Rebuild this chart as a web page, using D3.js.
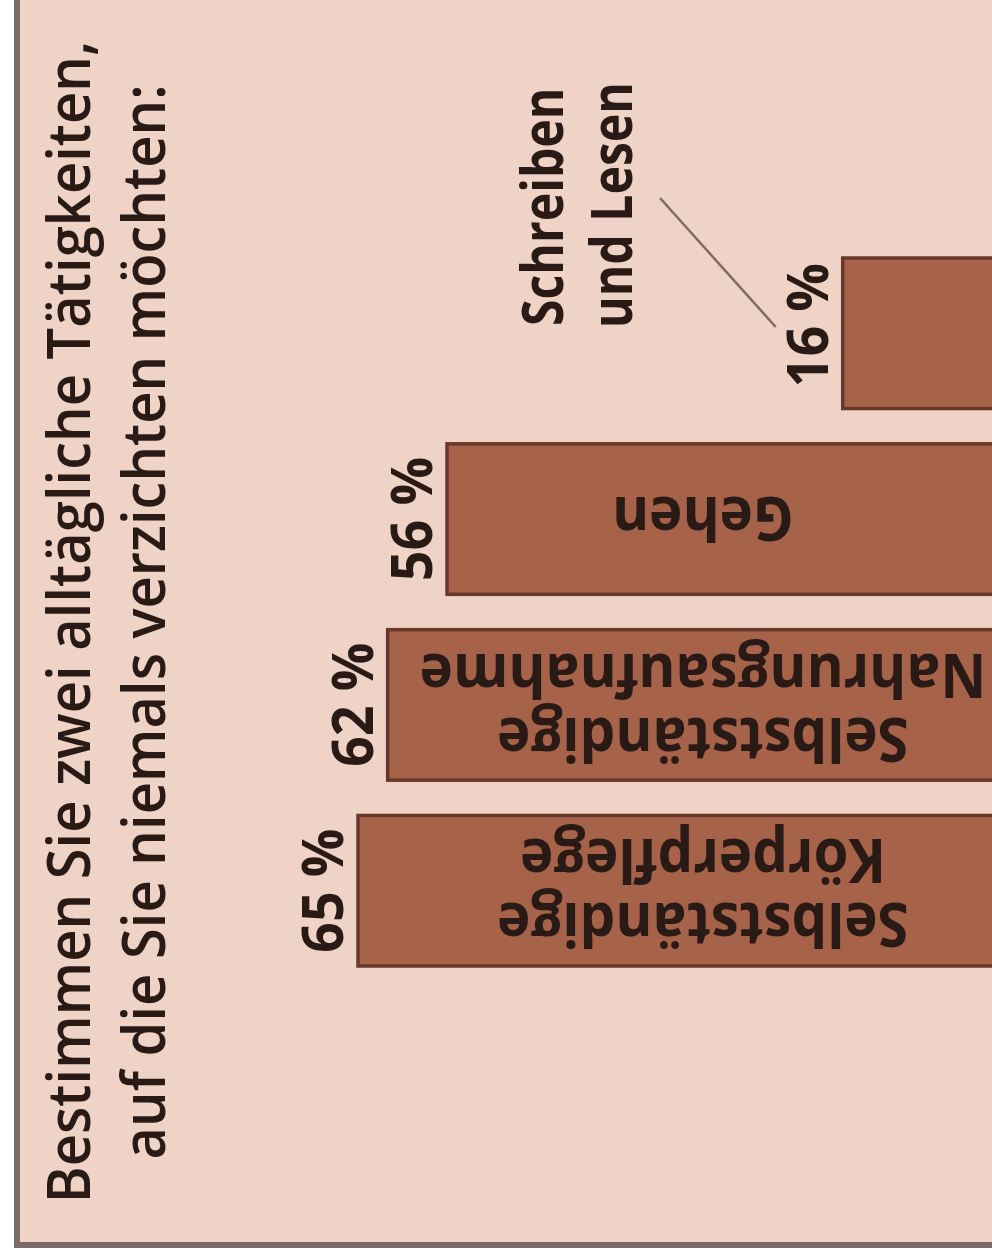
<!DOCTYPE html>
<html>
<head>
<meta charset="utf-8">
<script src="https://cdn.jsdelivr.net/npm/d3@7"></script>
<style>
  html, body { margin: 0; padding: 0; background: #ffffff; }
  svg { display: block; }
  text { font-family: "Open Sans", "Noto Sans", sans-serif; fill: #2a1a16; }
</style>
</head>
<body>
<svg id="chart" width="992" height="1260"></svg>
<script>
// Survey: everyday activities people would never want to give up
const categories = [
  "Schreiben und Lesen",
  "Gehen",
  "Selbstständige Nahrungsaufnahme",
  "Selbstständige Körperpflege"
];
const values = [16, 56, 62, 65];
const valueLabels = ["16 %", "56 %", "62 %", "65 %"];
// Text written inside each bar (empty when the label sits outside)
const barLabelLines = [
  [],
  ["Gehen"],
  ["Selbstständige", "Nahrungsaufnahme"],
  ["Selbstständige", "Körperpflege"]
];
const calloutLines = ["Schreiben", "und Lesen"];
const titleLines = [
  "Bestimmen Sie zwei alltägliche Tätigkeiten,",
  "auf die Sie niemals verzichten möchten:"
];

const W = 992, H = 1260;
const svg = d3.select("#chart");

// Panel with grey frame
svg.append("rect")
  .attr("x", 17).attr("y", -20)
  .attr("width", W + 40).attr("height", 1245 + 20)
  .attr("fill", "#efd3c7")
  .attr("stroke", "#7b6b66")
  .attr("stroke-width", 6);

// Bars grow leftwards from the right edge; labels run along the bars
const x = d3.scaleLinear().domain([0, 65]).range([1001, 358]);
const y = d3.scaleBand().domain(categories).range([258, 966])
  .paddingInner(0.19).paddingOuter(0);
const bw = y.bandwidth();

// Slightly condensed rendering of the humanist sans
function condense(sel, k) {
  sel.each(function () {
    const len = this.getComputedTextLength();
    d3.select(this).attr("textLength", len * k).attr("lengthAdjust", "spacingAndGlyphs");
  });
}

const data = categories.map((c, i) => ({
  cat: c, value: values[i], label: valueLabels[i], lines: barLabelLines[i]
}));

const bars = svg.append("g");
bars.selectAll("rect")
  .data(data)
  .join("rect")
  .attr("x", d => x(d.value))
  .attr("y", d => y(d.cat))
  .attr("width", d => x(0) - x(d.value))
  .attr("height", bw)
  .attr("fill", "#a7624a")
  .attr("stroke", "#67382a")
  .attr("stroke-width", 3.5);

// Value labels, rotated to read upwards, beside the bar ends
svg.append("g").selectAll("text")
  .data(data)
  .join("text")
  .attr("transform", (d, i) => `translate(${x(d.value) - 15},${y(d.cat) + bw / 2 - (i === 0 ? 8 : 0)}) rotate(-90)`)
  .attr("text-anchor", "middle")
  .attr("font-size", 58)
  .attr("font-weight", 700)
  .text(d => d.label)
  .call(condense, 0.93);

// Category names inside the bars, turned upside down
const inner = svg.append("g");
data.forEach(d => {
  const n = d.lines.length;
  d.lines.forEach((line, j) => {
    // first line sits lower, second line above it
    const base = n === 1 ? y(d.cat) + bw / 2 - 22 : y(d.cat) + (j === 0 ? 88 : 24);
    inner.append("text")
      .attr("transform", `translate(703,${base}) rotate(180)`)
      .attr("text-anchor", "middle")
      .attr("font-size", 60)
      .attr("font-weight", 700)
      .text(line)
      .call(condense, 0.94);
  });
});

// Callout for the short bar
const cat0 = categories[0];
const callout = svg.append("g");
calloutLines.forEach((line, j) => {
  callout.append("text")
    .attr("transform", `translate(${563 + j * 69},${326 + j * 2}) rotate(-90)`)
    .attr("text-anchor", "start")
    .attr("font-size", 58)
    .attr("font-weight", 700)
    .text(line)
    .call(condense, 0.83);
});
callout.append("line")
  .attr("x1", 660).attr("y1", 198)
  .attr("x2", x(values[0]) - 67).attr("y2", y(cat0) + 69)
  .attr("stroke", "#7f6b65")
  .attr("stroke-width", 2.5);

// Question title
const title = svg.append("g");
titleLines.forEach((line, j) => {
  title.append("text")
    .attr("transform", `translate(${90 + j * 75},622) rotate(-90)`)
    .attr("text-anchor", "middle")
    .attr("font-size", 60)
    .attr("font-weight", 600)
    .text(line)
    .call(condense, 0.935);
});
</script>
</body>
</html>
